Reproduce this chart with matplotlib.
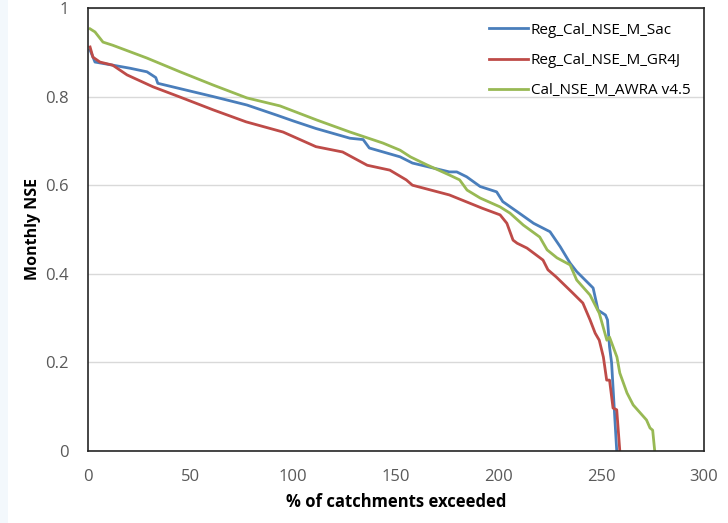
import matplotlib
matplotlib.use("Agg")
import matplotlib.pyplot as plt
from matplotlib.patches import Rectangle

# % of catchments exceeded vs monthly NSE
sac_x = [1, 3.4, 12, 20.5, 28.7, 33, 34, 44.8, 61, 77.4, 92, 100, 111, 127.6, 134, 137, 152, 158,
         176, 179.6, 184.4, 191, 199, 202, 210, 217, 225, 230, 234.8, 238, 246, 248.4, 252, 253,
         254, 255, 257.5]
sac_y = [0.905, 0.878, 0.871, 0.864, 0.856, 0.843, 0.83, 0.818, 0.8, 0.781, 0.758, 0.745,
         0.728, 0.706, 0.703, 0.684, 0.664, 0.65, 0.63, 0.63, 0.619, 0.597, 0.585, 0.563, 0.537,
         0.514, 0.495, 0.461, 0.424, 0.405, 0.368, 0.318, 0.307, 0.296, 0.235, 0.199, 0.0]

gr4j_x = [1, 2.4, 5.8, 12, 19, 31.7, 44.8, 61, 77, 95, 111, 124, 134, 136, 147, 155, 158, 176,
          192, 200.7, 204, 207, 209, 213.8, 221.6, 224, 228, 236, 241, 244.5, 247, 249, 251,
          252.6, 254, 255.7, 257.5, 259]
gr4j_y = [0.912, 0.889, 0.878, 0.871, 0.849, 0.822, 0.799, 0.77, 0.743, 0.72, 0.687, 0.675,
          0.65, 0.645, 0.634, 0.612, 0.6, 0.578, 0.548, 0.533, 0.514, 0.476, 0.469, 0.458, 0.431,
          0.409, 0.393, 0.357, 0.334, 0.296, 0.266, 0.25, 0.212, 0.16, 0.16, 0.097, 0.093, 0.0]

awra_x = [1, 3.4, 7.3, 12, 28.7, 44.8, 61, 77.4, 93.5, 111.5, 127.6, 143.7, 152, 157, 165,
          176, 181, 184.6, 191, 200.7, 205.5, 212, 220, 223.6, 228.4, 234.8, 238, 244.5, 249,
          252.7, 254, 257.6, 259, 262.5, 265.5, 272, 273.7, 275, 276]
awra_y = [0.953, 0.946, 0.923, 0.916, 0.887, 0.856, 0.826, 0.797, 0.779, 0.747, 0.72, 0.695,
          0.679, 0.664, 0.646, 0.623, 0.612, 0.589, 0.571, 0.551, 0.537, 0.51, 0.483, 0.454,
          0.436, 0.42, 0.386, 0.352, 0.311, 0.25, 0.257, 0.212, 0.176, 0.131, 0.104, 0.07,
          0.052, 0.047, 0.0]

labels = ["Reg_Cal_NSE_M_Sac", "Reg_Cal_NSE_M_GR4J", "Cal_NSE_M_AWRA v4.5"]
colors = ["#4a7ebb", "#be4b48", "#98b954"]
xticks = [0, 50, 100, 150, 200, 250, 300]
yticks = [0, 0.2, 0.4, 0.6, 0.8, 1]
ytick_labels = ["0", "0.2", "0.4", "0.6", "0.8", "1"]

plt.rcParams['font.family'] = ['Open Sans', 'DejaVu Sans']

fig = plt.figure(figsize=(7.28, 5.23), dpi=100)
fig.patches.append(Rectangle((0, 0), 8 / 728, 1, transform=fig.transFigure,
                             facecolor="#f3f8fc", edgecolor="none", zorder=0))
ax = fig.add_axes([88 / 728, (523 - 451) / 523, (704 - 88) / 728, (451 - 8) / 523])

for xs, ys, lab, c in zip([sac_x, gr4j_x, awra_x], [sac_y, gr4j_y, awra_y], labels, colors):
    ax.plot(xs, ys, color=c, lw=2.0, label=lab, solid_joinstyle="round")

ax.set_xlim(0, 300)
ax.set_ylim(0, 1)
ax.set_xticks(xticks)
ax.set_yticks(yticks)
ax.set_yticklabels(ytick_labels)
ax.tick_params(axis="both", length=0, labelsize=12, labelcolor="#595959")
ax.tick_params(axis="x", pad=13)
ax.tick_params(axis="y", pad=14)
ax.grid(axis="y", color="#d9d9d9", lw=1)
ax.set_axisbelow(True)
for s in ax.spines.values():
    s.set_color("#262626")
    s.set_linewidth(1.2)

ax.set_xlabel("% of catchments exceeded", fontsize=12, fontweight="bold", labelpad=6)
ax.set_ylabel("Monthly NSE", fontsize=11.5, fontweight="bold", labelpad=3)

leg = ax.legend(loc="upper right", frameon=False, fontsize=11, handlelength=2.5,
                handletextpad=0.2, labelspacing=1.0, bbox_to_anchor=(1.0, 0.998))

fig.savefig("out.png", dpi=100)
